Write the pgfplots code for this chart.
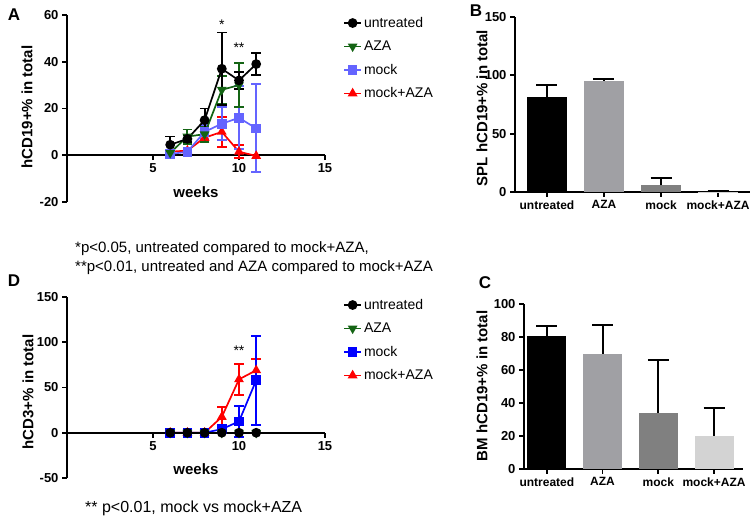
\documentclass[border=0pt]{standalone}
\usepackage{pgfplots}
\pgfplotsset{compat=1.18}
\usepackage{fontspec}
\setmainfont{Liberation Sans}
\definecolor{agreen}{RGB}{20,100,20}
\definecolor{lblue}{RGB}{100,100,255}
\definecolor{mblue}{RGB}{0,0,255}
\definecolor{mred}{RGB}{255,0,0}
\definecolor{gA}{RGB}{160,160,164}
\definecolor{gB}{RGB}{128,128,128}
\definecolor{gC}{RGB}{211,211,211}
\pgfplotsset{
  prism/.style={scale only axis, clip=false,
    axis line style={line width=1.8pt},
    every tick/.style={line width=1.8pt, black},
    major tick length=5pt, tick align=outside,
    ticklabel style={font=\fontsize{13}{13}\selectfont\bfseries},
    /pgf/number format/assume math mode=true},
  ser/.style n args={3}{color=#1, line width=1.7pt, mark=#2, mark size=4pt,
    mark options={solid, fill=#1, #3},
    error bars/y dir=both, error bars/y explicit,
    error bars/error bar style={line width=1.9pt, color=#1},
    error bars/error mark options={rotate=90, mark size=4.8pt, line width=1.9pt, color=#1}},
  barerr/.style={draw=none, fill=#1, bar shift=0pt,
    error bars/y dir=plus, error bars/y explicit,
    error bars/error bar style={line width=1.9pt, black},
    error bars/error mark options={rotate=90, mark size=10.5pt, line width=1.9pt, black}},
  leg/.style={legend style={at={(axis description cs:1.07,1.0)}, anchor=north west, draw=none, fill=none,
    font=\fontsize{14}{14}\selectfont, row sep=8pt, inner sep=0pt}, legend cell align=left, reverse legend}
}
\newcommand{\lab}{\fontsize{15}{15}\selectfont\bfseries}
\begin{document}
\begin{tikzpicture}
\path[use as bounding box] (0pt,0pt) rectangle (752pt,519pt);

% ---------- Panel A ----------
\begin{axis}[prism, leg, at={(67pt,317pt)}, anchor=south west, width=258pt, height=187pt,
  xmin=0, xmax=15, ymin=-20, ymax=60,
  axis x line*=middle, axis y line*=left,
  xtick={5,10,15}, ytick={-20,0,20,40,60},
  hide obscured y ticks=false, hide obscured x ticks=false]
\addplot[ser={mred}{triangle*}{}] coordinates {
 (6,1.5) (7,2) (8,7.5) +- (0,1) (9,10) +- (0,6.5) (10,1.5) +- (0,2.8) (11,-0.3)};
\addlegendentry{mock+AZA}
\addplot[ser={lblue}{square*}{}] coordinates {
 (6,0.5) +- (0,0.5) (7,1.5) +- (0,0.8) (8,10) +- (0,3) (9,13.5) +- (0,7) (10,16) +- (0,13.5) (11,11.5) +- (0,18.8)};
\addlegendentry{mock}
\addplot[ser={agreen}{triangle*}{rotate=180}] coordinates {
 (6,1) +- (0,0.5) (7,8) +- (0,3) (8,9) +- (0,3.3) (9,28) +- (0,6) (10,30) +- (0,9.5)};
\addlegendentry{AZA}
\addplot[ser={black}{*}{}] coordinates {
 (6,4.5) +- (0,3.5) (7,7) +- (0,1.5) (8,15) +- (0,5) (9,37) +- (0,15.5) (10,32) +- (0,3.5) (11,39) +- (0,4.7)};
\addlegendentry{untreated}
\node[font=\fontsize{14}{14}\selectfont] at (axis cs:9,56) {*};
\node[font=\fontsize{14}{14}\selectfont] at (axis cs:10,46) {**};
\node[font=\lab] at (axis cs:7.5,-15.7) {weeks};
\end{axis}

% ---------- Panel D ----------
\begin{axis}[prism, leg, at={(67pt,41pt)}, anchor=south west, width=258pt, height=181pt,
  xmin=0, xmax=15, ymin=-50, ymax=150,
  axis x line*=middle, axis y line*=left,
  xtick={5,10,15}, ytick={-50,0,50,100,150},
  hide obscured y ticks=false, hide obscured x ticks=false]
\addplot[ser={mred}{triangle*}{}] coordinates {
 (6,0) (7,0) (8,0) (9,17.5) +- (0,11) (10,59) +- (0,17) (11,69) +- (0,12.5)};
\addlegendentry{mock+AZA}
\addplot[ser={mblue}{square*}{}] coordinates {
 (6,0) (7,0) (8,0) (9,4) +- (0,3) (10,12.5) +- (0,17) (11,58) +- (0,49)};
\addlegendentry{mock}
\addplot[ser={agreen}{triangle*}{rotate=180}] coordinates {
 (6,0) (7,0) (8,0) (9,0) (10,0) (11,0)};
\addlegendentry{AZA}
\addplot[ser={black}{*}{}] coordinates {
 (6,0) (7,0) (8,0) (9,0) (10,0) (11,0)};
\addlegendentry{untreated}
\node[font=\fontsize{14}{14}\selectfont] at (axis cs:10,91) {**};
\node[font=\lab] at (axis cs:7.5,-40) {weeks};
\end{axis}

% ---------- Panel B ----------
\begin{axis}[prism, at={(515pt,327pt)}, anchor=south west, width=235pt, height=175pt,
  xmin=-0.56, xmax=3.56, ymin=0, ymax=150,
  axis x line*=bottom, axis y line*=left, ybar, bar width=0.7,
  xtick={0,1,2,3}, xticklabels={untreated,AZA,mock,mock+AZA},
  x tick label style={font=\fontsize{12}{12}\selectfont\bfseries},
  ytick={0,50,100,150}]
\addplot[barerr=black] coordinates {(0,81.2) +- (0,10.6)};
\addplot[barerr=gA] coordinates {(1,95.2) +- (0,1.4)};
\addplot[barerr=gB] coordinates {(2,5.7) +- (0,6.6)};
\addplot[barerr=gC] coordinates {(3,0.3) +- (0,0.4)};
\end{axis}

% ---------- Panel C ----------
\begin{axis}[prism, at={(524pt,50pt)}, anchor=south west, width=219pt, height=165pt,
  xmin=-0.41, xmax=3.52, ymin=0, ymax=100,
  axis x line*=bottom, axis y line*=left, ybar, bar width=0.7,
  xtick={0,1,2,3}, xticklabels={untreated,AZA,mock,mock+AZA},
  x tick label style={font=\fontsize{12}{12}\selectfont\bfseries},
  ytick={0,20,40,60,80,100}]
\addplot[barerr=black] coordinates {(0,80.4) +- (0,6)};
\addplot[barerr=gA] coordinates {(1,69.8) +- (0,17.6)};
\addplot[barerr=gB] coordinates {(2,34.2) +- (0,31.8)};
\addplot[barerr=gC] coordinates {(3,20) +- (0,17.2)};
\end{axis}

% ---------- labels ----------
\node[rotate=90, font=\lab] at (27pt,412pt) {hCD19+\% in total};
\node[rotate=90, font=\lab] at (28pt,127pt) {hCD3+\% in total};
\node[rotate=90, font=\lab, inner sep=0pt] at (482pt,411pt) {SPL hCD19+\% in total};
\node[rotate=90, font=\lab] at (482pt,133pt) {BM hCD19+\% in total};
\node[font=\fontsize{17}{17}\selectfont\bfseries] at (14pt,504pt) {A};
\node[font=\fontsize{17}{17}\selectfont\bfseries, inner sep=0pt] at (476pt,508pt) {B};
\node[font=\fontsize{17}{17}\selectfont\bfseries] at (14pt,238pt) {D};
\node[font=\fontsize{17}{17}\selectfont\bfseries] at (485pt,236pt) {C};
\node[anchor=west, font=\fontsize{15}{15}\selectfont, inner sep=0pt] at (75pt,270pt) {*p<0.05, untreated compared to mock+AZA,};
\node[anchor=west, font=\fontsize{15}{15}\selectfont, inner sep=0pt] at (75pt,251pt) {**p<0.01, untreated and AZA compared to mock+AZA};
\node[anchor=west, font=\fontsize{16}{16}\selectfont, inner sep=0pt] at (85pt,11pt) {** p<0.01, mock vs mock+AZA};
\end{tikzpicture}
\end{document}
